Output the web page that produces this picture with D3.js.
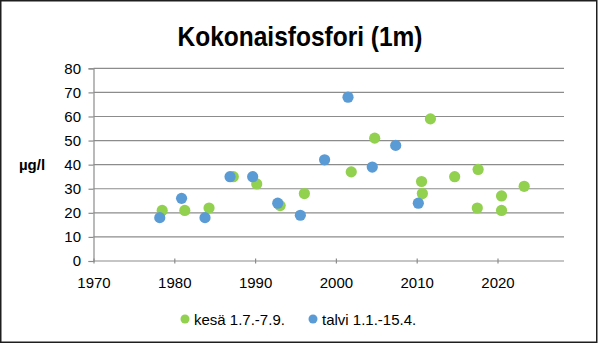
<!DOCTYPE html>
<html>
<head>
<meta charset="utf-8">
<script src="https://cdn.jsdelivr.net/npm/d3@7"></script>
<style>
  html, body { margin: 0; padding: 0; background: #fff; }
  svg { display: block; font-family: "Liberation Sans", Arial, sans-serif; }
</style>
</head>
<body>
<svg id="chart" width="600" height="345"></svg>
<script>
// Total phosphorus at 1 m depth, summer and winter samples
const kesaYears  = [1978.5, 1981.3, 1984.3, 1987.3, 1990.2, 1993.1, 1996.1, 2001.9, 2004.8, 2010.6, 2010.7, 2011.7, 2014.7, 2017.6, 2017.5, 2020.5, 2020.5, 2023.3];
const kesaValues = [21, 21, 22, 35, 32, 23, 28, 37, 51, 33, 28, 59, 35, 38, 22, 27, 21, 31];

const talviYears  = [1978.2, 1980.9, 1983.8, 1986.9, 1989.7, 1992.8, 1995.6, 1998.6, 2001.5, 2004.5, 2007.4, 2010.2];
const talviValues = [18, 26, 18, 35, 35, 24, 19, 42, 68, 39, 48, 24];

const xTicks = [1970, 1980, 1990, 2000, 2010, 2020];
const yTicks = [0, 10, 20, 30, 40, 50, 60, 70, 80];

const seriesNames = ["kesä 1.7.-7.9.", "talvi 1.1.-15.4."];
const seriesColors = ["#92D050", "#5B9BD5"];
const titleText = "Kokonaisfosfori (1m)";
const yAxisTitle = "µg/l";

const svg = d3.select("#chart");

// Plot area
const plotLeft = 93.5, plotRight = 564, plotTop = 68.3, plotBottom = 261;
const x = d3.scaleLinear().domain([1970, 2020]).range([plotLeft, 497.5]);
const y = d3.scaleLinear().domain([0, 80]).range([plotBottom, plotTop]);

// Outer frame
svg.append("rect")
  .attr("x", 0.75).attr("y", 0.75)
  .attr("width", 596).attr("height", 341.5)
  .attr("fill", "#fff").attr("stroke", "#1e1e1e").attr("stroke-width", 1.5);

// Title
svg.append("text")
  .attr("x", 300).attr("y", 46)
  .attr("text-anchor", "middle")
  .attr("font-size", 28).attr("font-weight", "bold")
  .attr("fill", "#000")
  .attr("textLength", 245).attr("lengthAdjust", "spacingAndGlyphs")
  .text(titleText);

// Horizontal gridlines
svg.append("g").selectAll("line")
  .data(yTicks.filter(d => d > 0))
  .join("line")
  .attr("x1", plotLeft).attr("x2", plotRight)
  .attr("y1", d => y(d)).attr("y2", d => y(d))
  .attr("stroke", "#8c8c8c").attr("stroke-width", 1.2);

// Y axis
const yAxis = d3.axisLeft(y).tickValues(yTicks).tickSize(5).tickPadding(8).tickFormat(d3.format("d"));
const gy = svg.append("g").attr("transform", `translate(${plotLeft},0)`).call(yAxis);
gy.select(".domain").attr("stroke", "#8c8c8c").attr("stroke-width", 1.2);
gy.selectAll(".tick line").attr("stroke", "#8c8c8c").attr("stroke-width", 1.2);
gy.selectAll(".tick text").attr("font-size", 15).attr("fill", "#000")
  .attr("font-family", "Liberation Sans, Arial, sans-serif").attr("x", -12.5);

// X axis (ticks cross the axis line)
const xAxis = d3.axisBottom(x).tickValues(xTicks).tickSize(0).tickPadding(0).tickFormat(d3.format("d"));
const gx = svg.append("g").attr("transform", `translate(0,${plotBottom})`).call(xAxis);
gx.select(".domain").remove();
gx.append("line").attr("x1", plotLeft).attr("x2", plotRight).attr("y1", 0).attr("y2", 0)
  .attr("stroke", "#8c8c8c").attr("stroke-width", 1.2);
gx.selectAll(".tick line").attr("y1", -2.5).attr("y2", 2.5)
  .attr("stroke", "#8c8c8c").attr("stroke-width", 1.2);
gx.selectAll(".tick text").attr("font-size", 15).attr("fill", "#000")
  .attr("font-family", "Liberation Sans, Arial, sans-serif")
  .attr("dy", null).attr("y", 27);

// Y axis title
svg.append("text")
  .attr("x", 32).attr("y", 169.5)
  .attr("text-anchor", "middle")
  .attr("font-size", 15).attr("font-weight", "bold")
  .attr("fill", "#000")
  .text(yAxisTitle);

// Points: summer first, winter drawn on top
const series = [
  { years: kesaYears, values: kesaValues, color: seriesColors[0] },
  { years: talviYears, values: talviValues, color: seriesColors[1] }
];
series.forEach(s => {
  svg.append("g").selectAll("circle")
    .data(s.values.map((v, i) => [s.years[i], v]))
    .join("circle")
    .attr("cx", d => x(d[0]))
    .attr("cy", d => y(d[1]))
    .attr("r", 5.6)
    .attr("fill", s.color);
});

// Legend
const legendX = [185, 313];
const legend = svg.append("g");
seriesNames.forEach((name, i) => {
  legend.append("circle")
    .attr("cx", legendX[i]).attr("cy", 319).attr("r", 4.5)
    .attr("fill", seriesColors[i]);
  legend.append("text")
    .attr("x", legendX[i] + 9).attr("y", 324.5)
    .attr("font-size", 15).attr("fill", "#000")
    .text(name);
});
</script>
</body>
</html>
